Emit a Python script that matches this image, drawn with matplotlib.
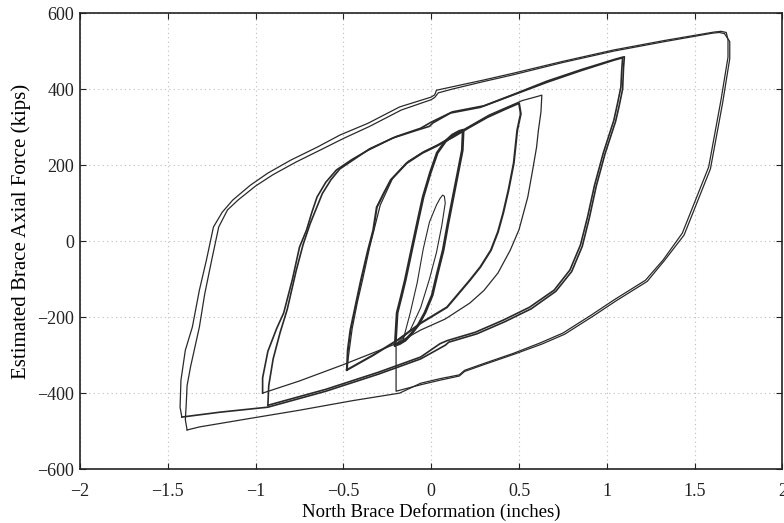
import numpy as np
import matplotlib.pyplot as plt

plt.rcParams['font.family'] = ['Liberation Serif', 'DejaVu Serif']

# brace deformation (inches) / axial force (kips), cycle by cycle
init_x = [-0.16, -0.12, -0.08, -0.045, -0.01, 0.03, 0.05, 0.065, 0.075, 0.08, 0.06, 0.03, -0.01, -0.06, -0.12, -0.20]
init_y = [-260, -190, -110, -20, 50, 95, 112, 121, 118, 100, 40, -30, -100, -175, -235, -272]

c02_x = [-0.205, -0.200, -0.194, -0.170, -0.148, -0.108, -0.075, -0.046, -0.005, 0.034, 0.08, 0.12, 0.160, 0.182,
         0.180, 0.177, 0.150, 0.125, 0.095, 0.068, 0.035, 0.006, -0.035, -0.074, -0.115, -0.148, -0.180, -0.205]
c02_y = [-274, -235, -189, -145, -103, -16, 55, 116, 180, 232, 262, 279, 289, 292,
         270, 239, 175, 116, 45, -24, -85, -142, -188, -221, -245, -261, -270, -274]

c05_x = [-0.48, -0.475, -0.46, -0.43, -0.40, -0.36, -0.33, -0.31, -0.27, -0.23, -0.14, -0.05, 0.03, 0.125, 0.22, 0.32, 0.42, 0.50,
         0.51, 0.49, 0.47, 0.44, 0.41, 0.38, 0.34, 0.28, 0.22, 0.09, -0.06, -0.19, -0.33, -0.48]
c05_y = [-339, -287, -234, -168, -103, -24, 29, 89, 126, 161, 205, 232, 250, 274, 300, 326, 347, 363,
         335, 292, 205, 134, 74, 24, -24, -68, -103, -174, -216, -260, -300, -339]

c062_x = [-0.48, -0.45, -0.42, -0.39, -0.35, -0.32, -0.29, -0.22, -0.13, -0.04, 0.04, 0.13, 0.33, 0.52, 0.60, 0.63,
          0.625, 0.61, 0.60, 0.575, 0.55, 0.50, 0.45, 0.38, 0.30, 0.22, 0.08, -0.06, -0.20, -0.50, -0.75, -0.96]
c062_y = [-333, -230, -160, -100, -15, 40, 95, 165, 210, 236, 254, 279, 332, 370, 380, 384,
          340, 290, 247, 180, 116, 30, -24, -84, -130, -163, -205, -234, -270, -325, -368, -400]

c108a_x = [-0.96, -0.96, -0.93, -0.88, -0.84, -0.79, -0.75, -0.71, -0.68, -0.65, -0.60, -0.54, -0.45, -0.36, -0.22, -0.08,
           -0.01, 0.01, 0.11, 0.28, 0.47, 0.66, 0.85, 1.04, 1.08, 1.09,
           1.085, 1.08, 1.06, 1.04, 0.98, 0.93, 0.89, 0.85, 0.79, 0.70, 0.56, 0.41, 0.25, 0.09, 0.05, -0.06, -0.30, -0.60, -0.93]
c108a_y = [-400, -360, -290, -230, -189, -100, -16, 29, 75, 116, 155, 187, 215, 239, 271, 292,
           302, 311, 337, 352, 385, 418, 448, 476, 481, 482,
           450, 405, 360, 318, 232, 147, 63, -10, -76, -129, -174, -208, -240, -262, -270, -305, -345, -390, -432]

c108b_x = [-0.93, -0.925, -0.90, -0.86, -0.82, -0.77, -0.73, -0.69, -0.62, -0.57, -0.52, -0.43, -0.35, -0.20, -0.06, 0.00, 0.12, 0.30,
           0.48, 0.66, 0.86, 1.05, 1.09, 1.10,
           1.095, 1.09, 1.07, 1.05, 0.99, 0.94, 0.90, 0.86, 0.80, 0.71, 0.57, 0.42, 0.26, 0.10, 0.08,
           -0.06, -0.30, -0.60, -0.93, -1.20, -1.42]
c108b_y = [-432, -380, -310, -240, -180, -80, -10, 45, 125, 162, 190, 218, 243, 275, 297, 313, 340, 356,
           388, 421, 452, 479, 484, 485,
           455, 400, 355, 315, 230, 145, 60, -14, -80, -132, -178, -212, -244, -266, -274,
           -310, -350, -395, -437, -450, -463]

c168a_x = [-1.42, -1.43, -1.425, -1.40, -1.36, -1.32, -1.28, -1.24, -1.19, -1.13, -1.03, -0.93, -0.80, -0.65, -0.52, -0.36, -0.18,
           0.00, 0.02, 0.03, 0.11, 0.30, 0.47, 0.75, 1.04, 1.33, 1.61, 1.65, 1.68,
           1.69, 1.69, 1.65, 1.58, 1.43, 1.32, 1.22, 1.04, 0.91, 0.75, 0.62, 0.47, 0.30, 0.19, 0.16,
           0.05, -0.06, -0.18, -0.45, -0.75, -1.05, -1.32, -1.39]
c168a_y = [-463, -437, -366, -287, -226, -129, -50, 37, 76, 108, 147, 179, 213, 247, 279, 310, 353,
           379, 385, 397, 405, 424, 442, 473, 503, 528, 550, 552, 549,
           530, 484, 371, 195, 21, -50, -103, -155, -195, -242, -268, -295, -322, -340, -352,
           -362, -374, -400, -420, -445, -468, -489, -497]

c168b_x = [-1.39, -1.40, -1.395, -1.39, -1.37, -1.32, -1.29, -1.25, -1.21, -1.16, -1.10, -1.00, -0.90, -0.77, -0.63, -0.50, -0.35, -0.17,
           0.00, 0.02, 0.04, 0.12, 0.30, 0.47, 0.75, 1.04, 1.33, 1.60, 1.64, 1.67,
           1.70, 1.70, 1.66, 1.59, 1.44, 1.33, 1.23, 1.05, 0.92, 0.76, 0.63, 0.47, 0.30, 0.19, 0.16,
           0.05, -0.06, -0.20, -0.20, -0.20]
c168b_y = [-497, -470, -430, -380, -330, -226, -140, -50, 37, 82, 108, 145, 175, 208, 240, 270, 302, 345,
           372, 378, 390, 400, 420, 438, 470, 500, 525, 547, 549, 546,
           525, 480, 365, 190, 16, -50, -106, -158, -198, -245, -271, -298, -325, -343, -355,
           -366, -378, -395, -340, -280]

xticks = [-2, -1.5, -1, -0.5, 0, 0.5, 1, 1.5, 2]
xtick_labels = ['-2', '-1.5', '-1', '-0.5', '0', '0.5', '1', '1.5', '2']
yticks = [-600, -400, -200, 0, 200, 400, 600]

fig = plt.figure(figsize=(7.84, 5.23), dpi=100)
ax = fig.add_axes([0.102, 0.103, 0.896, 0.872])

lc = '#2a2a2a'
ax.plot(init_x, init_y, color=lc, lw=0.8)
ax.plot(c02_x, c02_y, color=lc, lw=2.0)
ax.plot(c05_x, c05_y, color=lc, lw=1.5)
ax.plot(c062_x, c062_y, color=lc, lw=0.9)
ax.plot(c108a_x, c108a_y, color=lc, lw=1.2)
ax.plot(c108b_x, c108b_y, color=lc, lw=1.2)
ax.plot(c168a_x, c168a_y, color=lc, lw=0.9)
ax.plot(c168b_x, c168b_y, color=lc, lw=0.9)

ax.set_xlim(-2, 2)
ax.set_ylim(-600, 600)
ax.set_xticks(xticks)
ax.set_xticklabels([s.replace('-', '\u2212') for s in xtick_labels])
ax.set_yticks(yticks)
ax.grid(True, linestyle=(0, (1, 3)), color='#bdbdbd', linewidth=0.8)
ax.tick_params(direction='in', top=True, right=True, length=4, width=0.8,
               labelsize=13, colors='#222222')
ax.tick_params(axis='x', pad=10)
ax.tick_params(axis='y', pad=4)
for s in ax.spines.values():
    s.set_linewidth(1.2)
    s.set_color('#222222')

ax.set_xlabel('North Brace Deformation (inches)', fontsize=13.5)
ax.set_ylabel('Estimated Brace Axial Force (kips)', fontsize=15)
ax.xaxis.set_label_coords(0.5, -0.074)
ax.yaxis.set_label_coords(-0.07, 0.522)

fig.savefig('out.png', dpi=100, facecolor='white')
